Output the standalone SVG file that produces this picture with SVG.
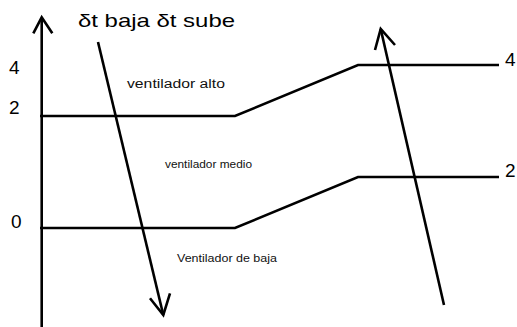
<svg xmlns="http://www.w3.org/2000/svg" width="517" height="327" viewBox="0 0 517 327">
<style>
.ln{fill:none;stroke:#000;stroke-width:2.6;stroke-linecap:butt;stroke-linejoin:miter}
.big{font-family:"Liberation Sans",Arial,sans-serif;font-size:19px;fill:#000}
.sm{font-family:"Liberation Sans",Arial,sans-serif;fill:#111}
</style>
<rect width="517" height="327" fill="#fff"/>
<g id="axis">
<line class="ln" x1="41.7" y1="18" x2="41.7" y2="327" stroke-width="2.8"/>
<polyline class="ln" points="33.3,33.3 41.7,17.3 52.3,33.3"/>
</g>
<g id="title"><text class="big" x="78" y="27" font-size="20" textLength="157" lengthAdjust="spacingAndGlyphs">δt baja δt sube</text></g>
<g id="labels">
<text class="big" x="9" y="74">4</text>
<text class="big" x="9" y="114">2</text>
<text class="big" x="11" y="228">0</text>
<text class="big" x="505" y="66">4</text>
<text class="big" x="505" y="177">2</text>
<text class="sm" x="127" y="88" font-size="12.5" textLength="98" lengthAdjust="spacingAndGlyphs">ventilador alto</text>
<text class="sm" x="165" y="168" font-size="10" textLength="87" lengthAdjust="spacingAndGlyphs">ventilador medio</text>
<text class="sm" x="177" y="262" font-size="10" textLength="100" lengthAdjust="spacingAndGlyphs">Ventilador de baja</text>
</g>
<g id="connectors">
<polyline class="ln" points="40,116 235,116 358,65 499,65"/>
<polyline class="ln" points="40,228 235,228 358,177 499,177"/>
<line class="ln" x1="98" y1="42" x2="163.3" y2="315"/>
<polyline class="ln" points="150,298.3 163.3,315 170,293.3"/>
<line class="ln" x1="444" y1="305" x2="380.7" y2="29"/>
<polyline class="ln" points="375,50 380.7,29 395,45"/>
</g>
</svg>
